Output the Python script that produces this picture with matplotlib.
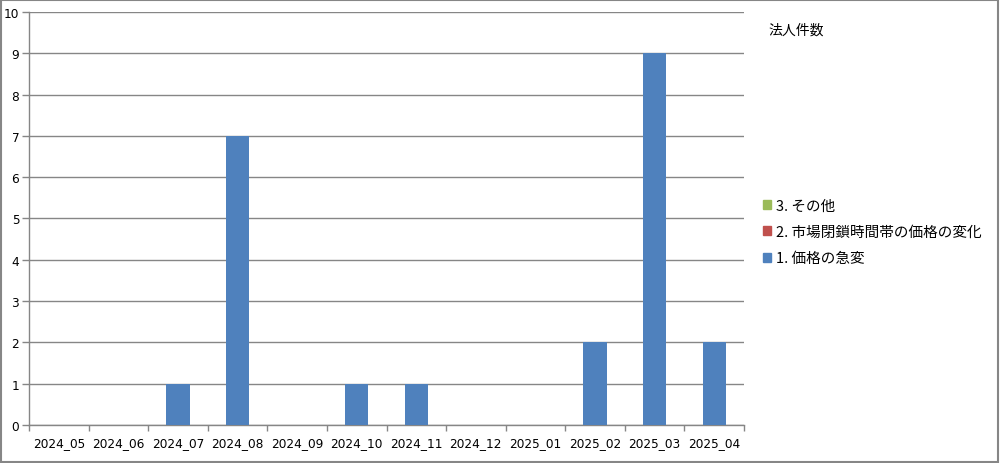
import matplotlib
matplotlib.use("Agg")
import matplotlib.pyplot as plt
import numpy as np
from matplotlib.patches import Rectangle, Patch

plt.rcParams['font.family'] = ['DejaVu Sans', 'Noto Sans CJK JP']

categories = ["2024_05", "2024_06", "2024_07", "2024_08", "2024_09", "2024_10",
              "2024_11", "2024_12", "2025_01", "2025_02", "2025_03", "2025_04"]
s1_name = "1. 価格の急変"
s2_name = "2. 市場閉鎖時間帯の価格の変化"
s3_name = "3. その他"
s1 = [0, 0, 1, 7, 0, 1, 1, 0, 0, 2, 9, 2]
s2 = [0] * 12
s3 = [0] * 12
legend_title = "法人件数"

c1, c2, c3 = "#4F81BD", "#C0504D", "#9BBB59"

fig = plt.figure(figsize=(10, 4.64), dpi=100)
ax = fig.add_axes([0.029, 0.082, 0.715, 0.890])

x = np.arange(len(categories))
w = 0.39
ax.bar(x, s1, width=w, color=c1, zorder=3)
ax.bar(x, s2, width=w, bottom=s1, color=c2, zorder=3)
ax.bar(x, s3, width=w, bottom=np.array(s1) + np.array(s2), color=c3, zorder=3)

ax.set_xlim(-0.5, len(categories) - 0.5)
ax.set_ylim(0, 10)
ax.set_yticks(range(0, 11))
ax.yaxis.grid(True, color="#868686", linewidth=1.0, zorder=0)
ax.set_axisbelow(True)
ax.set_xticks(x)
ax.set_xticklabels(categories, fontsize=8.7)
ax.set_xticks(np.arange(-0.5, len(categories)), minor=True)
ax.tick_params(axis='x', which='major', length=0, pad=8)
ax.tick_params(axis='x', which='minor', length=4, color="#868686", width=1)
ax.tick_params(axis='y', length=5, color="#868686", width=1, labelsize=8.7, pad=2)
for s in ["top", "right"]:
    ax.spines[s].set_visible(False)
for s in ["left", "bottom"]:
    ax.spines[s].set_color("#868686")
    ax.spines[s].set_linewidth(1.0)

handles = [Patch(color=c3, label=s3_name), Patch(color=c2, label=s2_name), Patch(color=c1, label=s1_name)]
fig.text(0.768, 0.935, legend_title, fontsize=10, family=['Noto Sans CJK JP'], va='center')
leg = fig.legend(handles=handles, loc='center left', bbox_to_anchor=(0.750, 0.498),
                 frameon=False, handlelength=0.55, handleheight=0.55,
                 handletextpad=0.35, labelspacing=0.85,
                 prop={'family': ['Noto Sans CJK JP'], 'size': 10.5})

fig.patches.append(Rectangle((0.001, 0.002), 0.997, 0.995, transform=fig.transFigure,
                             fill=False, edgecolor="#868686", linewidth=1.5))
fig.savefig("out.png", dpi=100)
